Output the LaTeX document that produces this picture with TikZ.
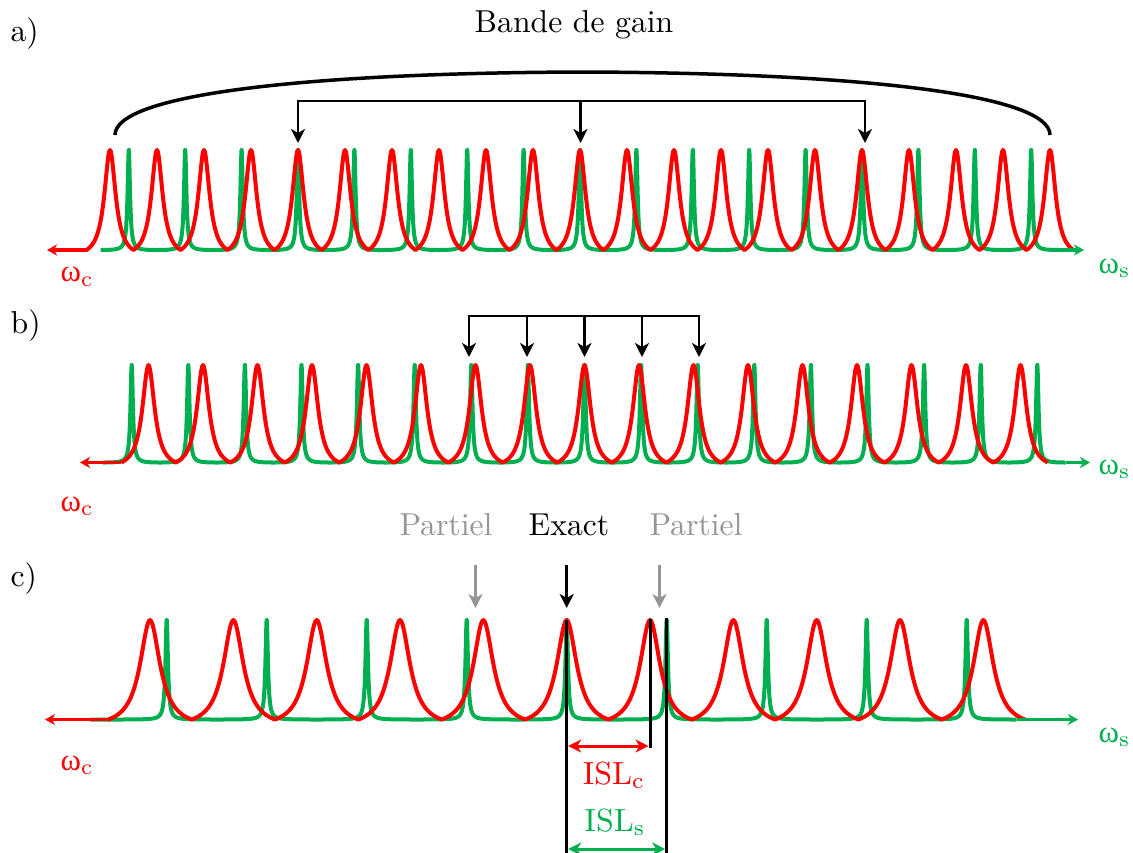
\documentclass[tikz,border=0pt]{standalone}
\usepackage{fontspec}
\newfontfamily\grk{Liberation Serif}
\usetikzlibrary{arrows.meta}
\definecolor{myred}{RGB}{255,0,0}
\definecolor{mygreen}{RGB}{0,176,80}
\definecolor{mygray}{RGB}{150,150,150}
\tikzset{
  redcurve/.style={myred, line width=4pt, line join=round},
  greencurve/.style={mygreen, line width=4pt, line join=round},
  redaxis/.style={myred, line width=3.5pt, -{Stealth[length=10pt,width=11pt,inset=3pt]}},
  greenaxis/.style={mygreen, line width=3.5pt, -{Stealth[length=10pt,width=11pt,inset=3pt]}},
  bracketline/.style={black, line width=2.5pt, line join=miter},
  dnarrow/.style={line width=2.5pt, -{Stealth[length=14pt,width=14pt,inset=4pt]}},
  arcline/.style={black, line width=3.5pt},
  vline/.style={black, line width=3pt},
  islarrow/.style={line width=3pt, {Stealth[length=13pt,width=13pt,inset=4pt]}-{Stealth[length=13pt,width=13pt,inset=4pt]}},
  lbl/.style={font=\fontsize{10}{12}\selectfont, scale=3.17, anchor=base, inner sep=0pt},
  omg/.style={font=\fontsize{10}{12}\selectfont, scale=3.1, anchor=base west, inner sep=0pt},
  isl/.style={font=\fontsize{10}{12}\selectfont, scale=3.2, anchor=base, inner sep=0pt},
}
% red: truncated Lorentzians. #1 centre, #2 period, #3 N (k=-N..N), #4 base, #5 height, #6 q=2*gamma/period
\newcommand\redrow[6]{%
  \pgfmathsetmacro\Le{#6*#6/(1+#6*#6)}%
  \draw[redcurve] ({#1-(#3+0.5)*#2},#4)
    \foreach \k in {-#3,...,#3}{
      -- plot[domain=-1:1,samples=61,variable=\t]
        ({#1+\k*#2+0.5*#2*\t},{#4-#5*(1/(1+(\t/#6)*(\t/#6))-\Le)/(1-\Le)})
    };}
% green: normalised Airy. #6 F, #7 start x
\newcommand\greenrow[7]{%
  \draw[greencurve] (#7,#4)
    \foreach \k in {-#3,...,#3}{
      -- plot[domain=-1:1,samples=91,variable=\t]
        ({#1+\k*#2+0.5*#2*\t*\t*\t},{#4-#5*cos(90*\t*\t*\t)*cos(90*\t*\t*\t)/(1+#6*sin(90*\t*\t*\t)*sin(90*\t*\t*\t))})
    };}
\begin{document}
\begin{tikzpicture}[x=1pt,y=-1pt]
\useasboundingbox (0,0) rectangle (1133,852);
\fill[white] (0,0) rectangle (1133,852);

% ---------------- panel a ----------------
\node[lbl, anchor=base west] (la) at (10,41.5) {a)};
\node[lbl] (title) at (574,32) {Bande de gain};
\greenrow{580}{56.4}{8}{250}{100}{150}{100.6}
\redrow{580}{47}{10}{250}{100}{0.29}
\coordinate (aR0) at (86.5,250);
\coordinate (aRt) at (47,250);
\coordinate (aG0) at (1059.4,250);
\coordinate (aGt) at (1084,250);
\draw[redaxis] (aR0) -- (aRt);
\draw[greenaxis] (aG0) -- (aGt);
\node[omg, myred] (wca) at (60,281.5) {{\grk ω}\textsubscript{c}};
\node[omg, mygreen] (wsa) at (1098,273) {{\grk ω}\textsubscript{s}};
\coordinate (arcL) at (115,135);
\coordinate (arcM) at (582.5,72);
\coordinate (arcR) at (1050,135);
\draw[arcline] (arcL) .. controls (115,95) and (300,73) .. (arcM) .. controls (865,73) and (1050,95) .. (arcR);
\coordinate (ba1) at (298,101);
\coordinate (ba2) at (580.5,101);
\coordinate (ba3) at (865,101);
\coordinate (ta1) at (298,143);
\coordinate (ta2) at (580.5,143);
\coordinate (ta3) at (865,143);
\draw[bracketline, {Stealth[length=14pt,width=14pt,inset=4pt]}-{Stealth[length=14pt,width=14pt,inset=4pt]}] (ta1) -- (ba1) -- (ba3) -- (ta3);
\draw[dnarrow] (ba2) -- (ta2);

% ---------------- panel b ----------------
\node[lbl, anchor=base west] (lb) at (10,333) {b)};
\greenrow{584.5}{56.6}{8}{462.5}{97.5}{150}{103.4}
\redrow{584.5}{54.5}{8}{462.5}{97.5}{0.27}
\coordinate (bR0) at (121.25,462.5);
\coordinate (bRt) at (80,462.5);
\coordinate (bG0) at (1065.6,462.5);
\coordinate (bGt) at (1090,462.5);
\draw[redaxis] (bR0) -- (bRt);
\draw[greenaxis] (bG0) -- (bGt);
\node[omg, myred] (wcb) at (60,511) {{\grk ω}\textsubscript{c}};
\node[omg, mygreen] (wsb) at (1098,474) {{\grk ω}\textsubscript{s}};
\coordinate (bb1) at (469,316);
\coordinate (bb2) at (527,316);
\coordinate (bb3) at (584.5,316);
\coordinate (bb4) at (642,316);
\coordinate (bb5) at (699,316);
\coordinate (tb1) at (469,357);
\coordinate (tb2) at (527,357);
\coordinate (tb3) at (584.5,357);
\coordinate (tb4) at (642,357);
\coordinate (tb5) at (699,357);
\draw[bracketline, {Stealth[length=14pt,width=14pt,inset=4pt]}-{Stealth[length=14pt,width=14pt,inset=4pt]}] (tb1) -- (bb1) -- (bb5) -- (tb5);
\draw[dnarrow] (bb2) -- (tb2);
\draw[dnarrow] (bb3) -- (tb3);
\draw[dnarrow] (bb4) -- (tb4);

% ---------------- panel c ----------------
\node[lbl, anchor=base west] (lc) at (10,586.5) {c)};
\node[lbl, mygray] (p1) at (446,535) {Partiel};
\node[lbl] (ex) at (569,535) {Exact};
\node[lbl, mygray] (p2) at (696,535) {Partiel};
\greenrow{566.7}{100}{4}{719.5}{99.5}{450}{90}
\redrow{566.7}{83.333}{5}{719.5}{99.5}{0.29}
\coordinate (cR0) at (108.4,719.5);
\coordinate (cRt) at (45,719.5);
\coordinate (cG0) at (1016.7,719.5);
\coordinate (cGt) at (1078,719.5);
\draw[redaxis] (cR0) -- (cRt);
\draw[greenaxis] (cG0) -- (cGt);
\node[omg, myred] (wcc) at (60,770) {{\grk ω}\textsubscript{c}};
\node[omg, mygreen] (wsc) at (1098,742) {{\grk ω}\textsubscript{s}};
\coordinate (s1) at (475.5,565);
\coordinate (e1) at (475.5,608);
\coordinate (s2) at (566.7,565);
\coordinate (e2) at (566.7,608);
\coordinate (s3) at (659.5,565);
\coordinate (e3) at (659.5,608);
\draw[dnarrow, mygray] (s1) -- (e1);
\draw[dnarrow, black] (s2) -- (e2);
\draw[dnarrow, mygray] (s3) -- (e3);
\coordinate (v1t) at (566.7,620);
\coordinate (v1b) at (566.7,870);
\coordinate (v2t) at (650,620);
\coordinate (v2b) at (650,746);
\coordinate (v3t) at (666.7,618);
\coordinate (v3b) at (666.7,870);
\draw[vline] (v1t) -- (v1b);
\draw[vline] (v3t) -- (v3b);
\draw[vline, line cap=rect] (v2t) -- (v2b);
\coordinate (rl) at (568.2,746);
\coordinate (rr) at (648.5,746);
\draw[islarrow, myred] (rl) -- (rr);
\node[isl, myred] (islc) at (614,784) {ISL\textsubscript{c}};
\node[isl, mygreen] (isls) at (615,831) {ISL\textsubscript{s}};
\coordinate (gl) at (568.2,849);
\coordinate (gr) at (665.2,849);
\draw[islarrow, mygreen] (gl) -- (gr);
\end{tikzpicture}
\end{document}
